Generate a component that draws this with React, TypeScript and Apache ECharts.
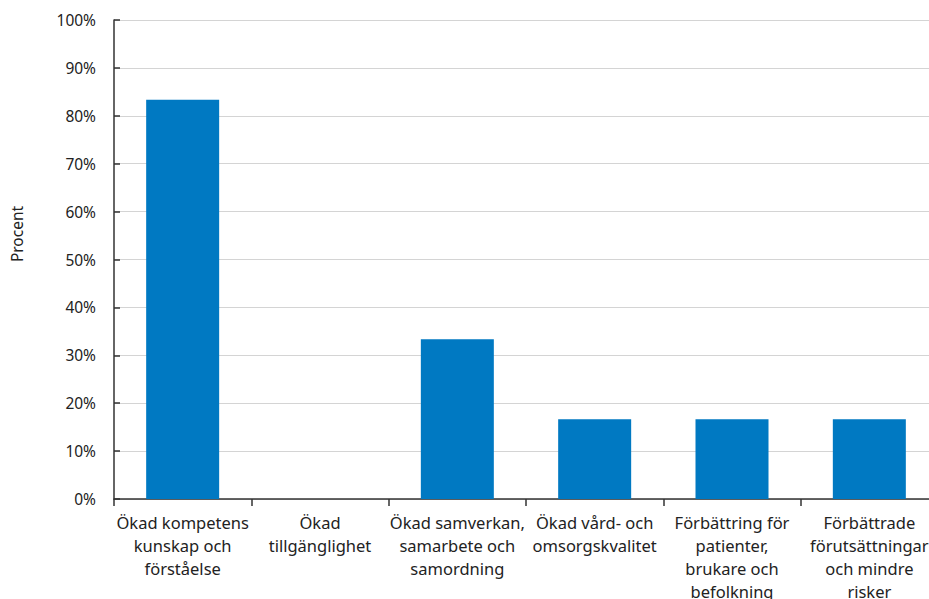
import React, { useEffect, useRef } from "react";
import * as echarts from "echarts";

const categories = [
  "Ökad kompetens\nkunskap och\nförståelse",
  "Ökad\ntillgänglighet",
  "Ökad samverkan,\nsamarbete och\nsamordning",
  "Ökad vård- och\nomsorgskvalitet",
  "Förbättring för\npatienter,\nbrukare och\nbefolkning",
  "Förbättrade\nförutsättningar\noch mindre\nrisker",
];
const values = [83.33, 0, 33.33, 16.67, 16.67, 16.67];
const yAxisName = "Procent";

export default function App() {
  const ref = useRef<HTMLDivElement>(null);
  useEffect(() => {
    if (!ref.current) return;
    document.documentElement.style.overflow = "hidden";
    document.body.style.overflow = "hidden";
    document.body.style.margin = "0";
    const chart = echarts.init(ref.current, undefined, { renderer: "svg" });
    const font = "'Noto Sans', 'Open Sans', sans-serif";
    chart.setOption({
      animation: false,
      backgroundColor: "#ffffff",
      textStyle: { fontFamily: font },
      grid: {
        left: 114,
        top: 20,
        width: 824,
        height: 479,
        containLabel: false,
        outerBoundsMode: "none",
      },
      xAxis: {
        type: "category",
        data: categories,
        axisLine: { lineStyle: { color: "#333333", width: 1.5 } },
        axisTick: { show: true, length: 7, lineStyle: { color: "#333333", width: 1.5 } },
        axisLabel: {
          interval: 0,
          margin: 12,
          color: "#222222",
          fontSize: 16.5,
          lineHeight: 23,
          fontFamily: font,
          align: "center",
        },
      },
      yAxis: {
        type: "value",
        min: 0,
        max: 100,
        interval: 10,
        axisLine: { show: true, lineStyle: { color: "#333333", width: 1.5 } },
        axisTick: { show: true, inside: true, length: 6, lineStyle: { color: "#333333", width: 1.5 } },
        splitLine: { show: true, lineStyle: { color: "#d4d4d4", width: 1 } },
        axisLabel: {
          margin: 18,
          color: "#222222",
          fontSize: 15.5,
          fontFamily: font,
          formatter: (v: number) => `${v}%`,
        },
      },
      graphic: [
        {
          type: "text",
          x: 17,
          y: 234,
          rotation: Math.PI / 2,
          style: {
            text: yAxisName,
            fontSize: 15.5,
            fontFamily: font,
            fill: "#222222",
            align: "center",
            verticalAlign: "middle",
          },
        },
      ],
      series: [
        {
          type: "bar",
          data: values,
          barWidth: 73,
          itemStyle: { color: "#0079C2" },
        },
      ],
    });
    return () => chart.dispose();
  }, []);
  return (
    <div style={{ position: "fixed", left: 0, top: 0, width: 929, height: 599, overflow: "hidden" }}>
      <div ref={ref} style={{ width: 929, height: 599 }} />
    </div>
  );
}
